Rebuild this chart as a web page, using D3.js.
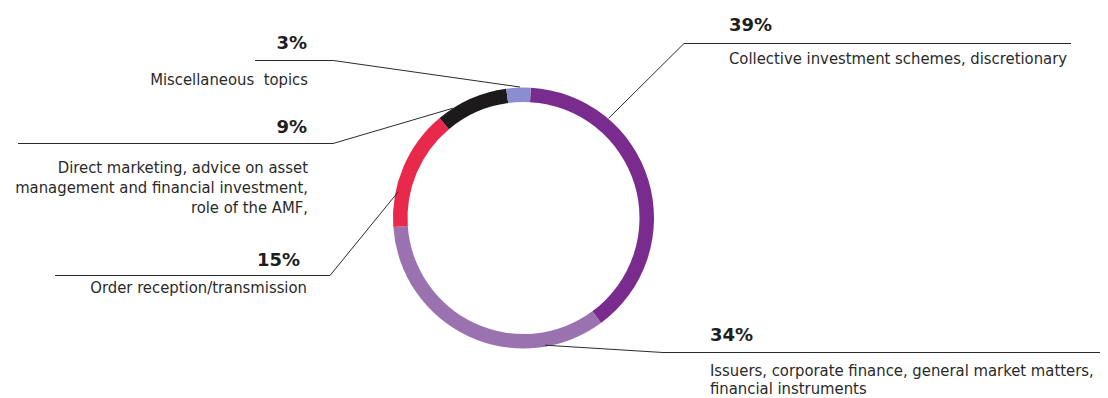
<!DOCTYPE html>
<html>
<head>
<meta charset="utf-8">
<script src="https://cdn.jsdelivr.net/npm/d3@7"></script>
<style>
  html, body { margin: 0; padding: 0; background: #fff; }
  svg { display: block; }
  .pct { font-family: "DejaVu Sans", sans-serif; font-weight: bold; font-size: 18px; fill: #1e1e1e; }
  .desc { font-family: "DejaVu Sans Condensed", sans-serif; font-size: 16.5px; fill: #2a2a2a; white-space: pre; }
</style>
</head>
<body>
<script>
// ---- data ----
const categories = [
  "Collective investment schemes, discretionary",
  "Issuers, corporate finance, general market matters, financial instruments",
  "Order reception/transmission",
  "Direct marketing, advice on asset management and financial investment, role of the AMF,",
  "Miscellaneous  topics"
];
const values = [39, 34, 15, 9, 3];
const percentLabels = ["39%", "34%", "15%", "9%", "3%"];
const labelLines = [
  ["Collective investment schemes, discretionary"],
  ["Issuers, corporate finance, general market matters,", "financial instruments"],
  ["Order reception\u2215transmission"],
  ["Direct marketing, advice on asset", "management and financial investment,", "role of the AMF,"],
  ["Miscellaneous  topics"]
];
const colors = ["#7a2b8e", "#9a72b0", "#e8294b", "#1c1a1b", "#8a8dd0"];

// ---- layout ----
const W = 1108, H = 398;
const cx = 523.5, cy = 218;
const rOuter = 130.5, rInner = 116;
const deg = Math.PI / 180;
const startAngle = 3.2 * deg;

// leader layout per category: anchor angle on ring, elbow, line end, text side
const leaders = [
  { angle: 40.5, r: 131, elbow: [684, 43.5], end: 1071, side: "right", pctX: 729, pctY: 30.5, textX: 729, textY: 64, lh: 20 },
  { angle: 170.4, r: 129, elbow: [663, 352.5], end: 1100, side: "right", pctX: 710, pctY: 340.5, textX: 710, textY: 375.5, lh: 18.5 },
  { angle: 281.8, r: 128, elbow: [330, 275.5], end: 55, side: "left", pctX: 300, pctY: 266, textX: 307, textY: 293.3, lh: 20 },
  { angle: 327.3, r: 130.5, elbow: [333, 143.5], end: 18, side: "left", pctX: 307, pctY: 133.3, textX: 308, textY: 173, lh: 20 },
  { angle: 358.5, r: 131, elbow: [333.3, 60.5], end: 255, side: "left", pctX: 307, pctY: 49.3, textX: 308, textY: 85, lh: 20 }
];

const svg = d3.select("body").append("svg").attr("width", W).attr("height", H);

const pie = d3.pie().sort(null).value(d => d).startAngle(startAngle).endAngle(startAngle + 2 * Math.PI);
const arc = d3.arc().innerRadius(rInner).outerRadius(rOuter);

const g = svg.append("g").attr("transform", `translate(${cx},${cy})`);
g.selectAll("path")
  .data(pie(values))
  .join("path")
  .attr("d", arc)
  .attr("fill", (d, i) => colors[i]);

// leader lines
svg.append("g").selectAll("path")
  .data(leaders)
  .join("path")
  .attr("fill", "none")
  .attr("stroke", "#2b2b2b")
  .attr("stroke-width", 1)
  .attr("d", d => {
    const a = d.angle * deg;
    const px = cx + d.r * Math.sin(a), py = cy - d.r * Math.cos(a);
    return d3.line()([[px, py], d.elbow, [d.end, d.elbow[1]]]);
  });

// labels
const lg = svg.append("g");
leaders.forEach((d, i) => {
  const anchor = d.side === "right" ? "start" : "end";
  lg.append("text").attr("class", "pct")
    .attr("x", d.pctX).attr("y", d.pctY)
    .attr("text-anchor", anchor)
    .text(percentLabels[i]);
  const t = lg.append("text").attr("class", "desc").attr("text-anchor", anchor);
  labelLines[i].forEach((line, j) => {
    t.append("tspan").attr("x", d.textX).attr("y", d.textY + j * d.lh).text(line);
  });
});
</script>
</body>
</html>
